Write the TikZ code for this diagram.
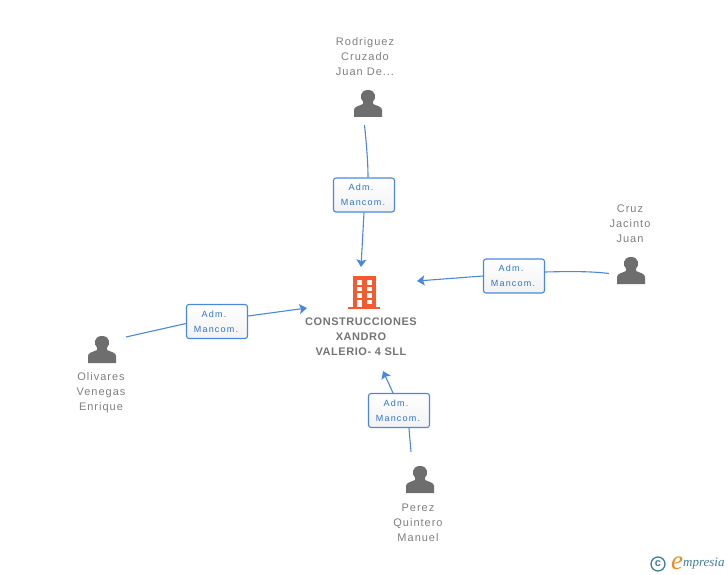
\documentclass[tikz,border=0pt]{standalone}
\usepackage{fontspec}
\setmainfont{Liberation Sans}
\usetikzlibrary{arrows.meta}
\definecolor{linkblue}{HTML}{4A88E0}
\definecolor{labelblue}{HTML}{2F74D0}
\definecolor{persongrey}{HTML}{6E6E6E}
\definecolor{textgrey}{HTML}{808080}
\definecolor{coname}{HTML}{757575}
\definecolor{bldg}{HTML}{F4592F}
\definecolor{logoteal}{HTML}{3F7F9A}
\definecolor{logoorange}{HTML}{EE8A1E}
\newfontfamily\spacedfont[LetterSpace=9]{Liberation Sans}
\newfontfamily\labelfont[LetterSpace=13]{Liberation Sans}
\newfontfamily\cofont[LetterSpace=5,BoldFont={Liberation Sans Bold}]{Liberation Sans}
\newfontfamily\logofont{Liberation Serif}
\tikzset{
  x=1pt,y=-1pt,
  rolebox/.style={draw=linkblue,line width=1.1pt,rounded corners=2.5pt,top color=white,bottom color=black!5,
    minimum width=61pt,minimum height=34pt,inner sep=0pt,align=center,text=labelblue,
    font=\labelfont\fontsize{9}{15}\selectfont},
  conn/.style={draw=linkblue,line width=1.1pt},
  arrowconn/.style={conn,-{Stealth[length=7.5pt,width=10pt,inset=1.5pt,fill=linkblue]}},
  personname/.style={align=center,text=textgrey,inner sep=0pt,font=\spacedfont\fontsize{11}{15}\selectfont},
  companyname/.style={align=center,text=coname,inner sep=0pt,font=\cofont\bfseries\fontsize{11}{15}\selectfont},
  person/.pic={
    \fill[persongrey] (-14,13) -- (-14,6) .. controls (-14,2.5) and (-9,2) .. (-5,0)
      -- (-5,-2.5) .. controls (-8.5,-5) and (-8.5,-14) .. (0,-14)
      .. controls (8.5,-14) and (8.5,-5) .. (5,-2.5) -- (5,0)
      .. controls (9,2) and (14,2.5) .. (14,6) -- (14,13) -- cycle;
  },
}
\begin{document}
\begin{tikzpicture}
\useasboundingbox (0,0) rectangle (728,575);
\fill[white] (0,0) rectangle (728,575);
% people
\pic at (368,104) {person};
\pic at (631,271) {person};
\pic at (102,350) {person};
\pic at (420,480) {person};
\node[personname] (rodriguez) at (365,56.5) {Rodriguez\\Cruzado\\Juan De...};
\node[personname] (cruz) at (630,223.5) {Cruz\\Jacinto\\Juan};
\node[personname] (olivares) at (101,392.5) {Olivares\\Venegas\\Enrique};
\node[personname] (perez) at (418,522.5) {Perez\\Quintero\\Manuel};
% company
\fill[bldg] (353,276) rectangle (376,307);
\fill[bldg] (348,306.5) rectangle (380,309);
\foreach \wy in {280,286.7,293.3}{
  \fill[white] (357,\wy) rectangle (362,\wy+4.6);
  \fill[white] (366.5,\wy) rectangle (371.5,\wy+4.6);
}
\fill[white] (366.5,300) rectangle (371.5,304.3);
\fill[white] (357,300) rectangle (362,307);
\coordinate (companytop) at (361,267);
\coordinate (companyright) at (417,281);
\coordinate (companyleft) at (307,308);
\coordinate (companybottom) at (383,371);
\node[companyname] (company) at (361,337) {CONSTRUCCIONES\\XANDRO\\VALERIO- 4 SLL};
% role boxes
\node[rolebox] (box1) at (364,195) {Adm.\kern6pt\relax\\Mancom.\kern2pt\relax};
\node[rolebox] (box2) at (514,276) {Adm.\kern6pt\relax\\Mancom.\kern2pt\relax};
\node[rolebox] (box3) at (217,321.5) {Adm.\kern6pt\relax\\Mancom.\kern2pt\relax};
\node[rolebox] (box4) at (399,410.5) {Adm.\kern6pt\relax\\Mancom.\kern2pt\relax};
% free ends
\coordinate (p1) at (364.5,125);
\coordinate (p2) at (609,273.5);
\coordinate (p3) at (126,337);
\coordinate (p4) at (411,452);
% connectors
\draw[conn] (p1) .. controls (366,140) and (368,160) .. ([xshift=4pt]box1.north);
\draw[arrowconn] (box1.south) -- (companytop);
\draw[conn] (p2) .. controls (590,271) and (565,271.5) .. ([yshift=4pt]box2.east);
\draw[arrowconn] (box2.west) -- (companyright);
\draw[conn] (p3) -- ([yshift=-2pt]box3.west);
\draw[arrowconn] ([yshift=5.5pt]box3.east) -- (companyleft);
\draw[conn] (p4) .. controls (410.5,445) and (409.5,436) .. ([xshift=10pt]box4.south);
\draw[arrowconn] ([xshift=-6pt]box4.north) -- (companybottom);
% logo
\node[circle,draw=logoteal,line width=1.3pt,minimum size=14pt,inner sep=0pt,text=logoteal,
  font=\fontsize{11}{11}\selectfont\bfseries] (copyr) at (658,564) {c};
\node[inner sep=0pt,text=logoorange,font=\logofont\fontsize{27}{27}\selectfont\itshape] (logoe) at (677,563) {e};
\node[inner sep=0pt,text=logoteal,anchor=west,font=\logofont\fontsize{13}{13}\selectfont\itshape] (logotext) at (683,563.5) {mpresia};
\end{tikzpicture}
\end{document}
